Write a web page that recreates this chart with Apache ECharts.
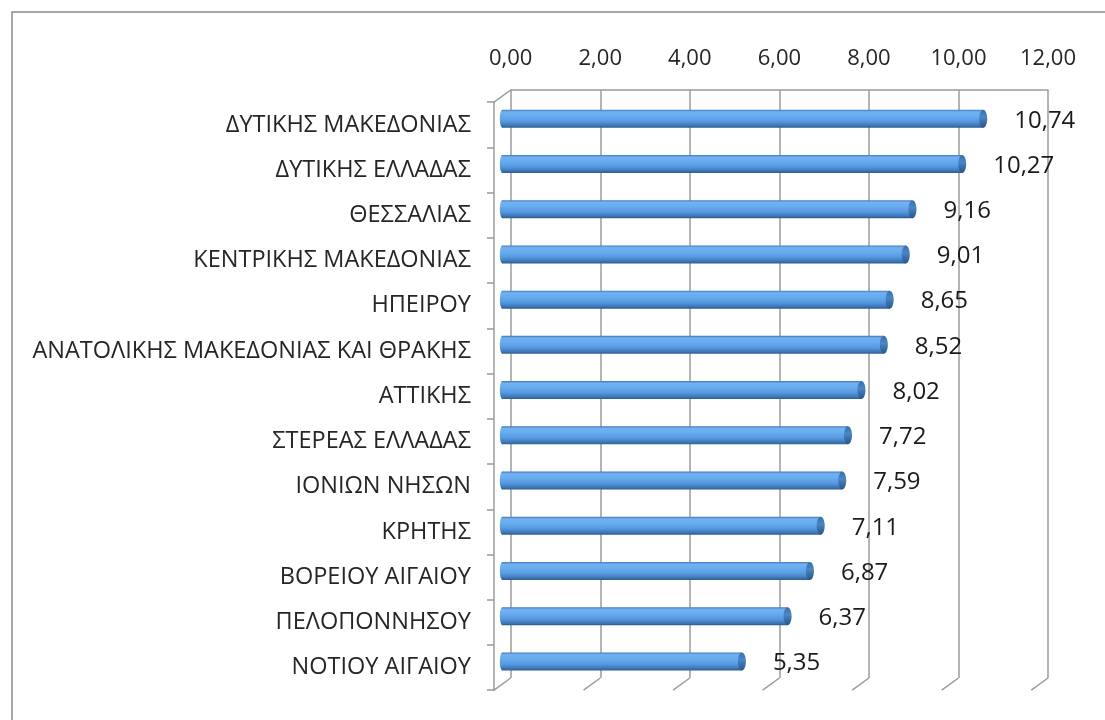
<!DOCTYPE html>
<html><head><meta charset="utf-8">
<script src="https://cdn.jsdelivr.net/npm/echarts@6/dist/echarts.min.js"></script>
<style>html,body{margin:0;padding:0;background:#fff}#c{width:1105px;height:720px}</style>
</head><body><div id="c"></div>
<script>
const categories = [
  'ΔΥΤΙΚΗΣ ΜΑΚΕΔΟΝΙΑΣ',
  'ΔΥΤΙΚΗΣ ΕΛΛΑΔΑΣ',
  'ΘΕΣΣΑΛΙΑΣ',
  'ΚΕΝΤΡΙΚΗΣ ΜΑΚΕΔΟΝΙΑΣ',
  'ΗΠΕΙΡΟΥ',
  'ΑΝΑΤΟΛΙΚΗΣ ΜΑΚΕΔΟΝΙΑΣ ΚΑΙ ΘΡΑΚΗΣ',
  'ΑΤΤΙΚΗΣ',
  'ΣΤΕΡΕΑΣ ΕΛΛΑΔΑΣ',
  'ΙΟΝΙΩΝ ΝΗΣΩΝ',
  'ΚΡΗΤΗΣ',
  'ΒΟΡΕΙΟΥ ΑΙΓΑΙΟΥ',
  'ΠΕΛΟΠΟΝΝΗΣΟΥ',
  'ΝΟΤΙΟΥ ΑΙΓΑΙΟΥ'
];
const values = [10.74, 10.27, 9.16, 9.01, 8.65, 8.52, 8.02, 7.72, 7.59, 7.11, 6.87, 6.37, 5.35];
const tickValues = [0, 2, 4, 6, 8, 10, 12];

const fmt = v => v.toFixed(2).replace('.', ',');
const FONT = '"Open Sans", "Noto Sans", sans-serif';
const DX = 16.7, DY = 12.2;
const LINE = '#9b9b9b';

const chart = echarts.init(document.getElementById('c'), null, {renderer: 'canvas'});

const barFill = {type: 'linear', x: 0, y: 0, x2: 0, y2: 1, colorStops: [
  {offset: 0, color: '#4279b8'},
  {offset: 0.12, color: '#70b2f2'},
  {offset: 0.35, color: '#68acef'},
  {offset: 0.65, color: '#5699e0'},
  {offset: 0.88, color: '#3d76b6'},
  {offset: 1, color: '#2d5b8f'}
]};
const capFill = {type: 'linear', x: 0, y: 0, x2: 0, y2: 1, colorStops: [
  {offset: 0, color: '#3a6ea8'},
  {offset: 0.4, color: '#4a86c6'},
  {offset: 1, color: '#2a5485'}
]};

const option = {
  backgroundColor: '#ffffff',
  animation: false,
  graphic: [{
    type: 'rect', silent: true, z: 0,
    shape: {x: 12, y: 12, width: 1200, height: 800},
    style: {fill: 'none', stroke: '#8a8a8a', lineWidth: 1.5}
  }],
  grid: [
    {left: 510.7, right: 57, top: 90, bottom: 42},
    {left: 494, right: 73.7, top: 102.2, bottom: 29.8},
    {left: 502.35, right: 65.35, top: 96.1, bottom: 35.9}
  ],
  xAxis: [
    {gridIndex: 0, type: 'value', position: 'top', min: 0, max: 12, interval: 2,
     axisLine: {show: true, lineStyle: {color: LINE, width: 1.5}},
     axisTick: {show: false},
     splitLine: {show: true, lineStyle: {color: LINE, width: 1.5}},
     axisLabel: {formatter: v => fmt(v), fontFamily: FONT, fontSize: 22, color: '#262626', margin: 20}},
    {gridIndex: 1, type: 'value', min: 0, max: 12, show: false},
    {gridIndex: 2, type: 'value', min: 0, max: 12, show: false}
  ],
  yAxis: [
    {gridIndex: 0, type: 'category', inverse: true, data: categories, show: false},
    {gridIndex: 1, type: 'category', inverse: true, data: categories,
     axisLine: {show: true, lineStyle: {color: LINE, width: 1.5}},
     axisTick: {show: true, length: 7, lineStyle: {color: LINE, width: 1.5}},
     splitLine: {show: false},
     axisLabel: {fontFamily: FONT, fontSize: 23.5, color: '#262626', margin: 23}},
    {gridIndex: 2, type: 'category', inverse: true, data: categories, show: false}
  ],
  series: [
    {
      type: 'custom', name: 'frame', xAxisIndex: 0, yAxisIndex: 0, silent: true, clip: false, z: 1,
      data: tickValues.map(v => [v, 0]),
      encode: {x: 0, y: 1},
      renderItem: (params, api) => {
        const cs = params.coordSys;
        const x = api.coord([api.value(0), 0])[0];
        const yb = cs.y + cs.height;
        const children = [{
          type: 'line', shape: {x1: x, y1: yb, x2: x - DX, y2: yb + DY},
          style: {stroke: LINE, lineWidth: 1.5}
        }];
        if (params.dataIndex === 0) {
          children.push({
            type: 'line', shape: {x1: cs.x, y1: cs.y, x2: cs.x - DX, y2: cs.y + DY},
            style: {stroke: LINE, lineWidth: 1.5}
          });
        }
        return {type: 'group', children};
      }
    },
    {
      type: 'custom', name: 'values', xAxisIndex: 2, yAxisIndex: 2, clip: false, z: 5,
      data: values.map((v, i) => [v, i]),
      encode: {x: 0, y: 1},
      renderItem: (params, api) => {
        const v = api.value(0);
        const c0 = api.coord([0, api.value(1)]);
        const c1 = api.coord([v, api.value(1)]);
        const h = 18, y = c0[1];
        return {type: 'group', children: [
          {type: 'rect', shape: {x: c0[0], y: y - h / 2, width: c1[0] - c0[0], height: h},
           style: {fill: barFill}},
          {type: 'ellipse', shape: {cx: c0[0], cy: y, rx: 2.5, ry: h / 2},
           style: {fill: barFill}},
          {type: 'ellipse', shape: {cx: c1[0], cy: y, rx: 4, ry: h / 2},
           style: {fill: capFill}},
          {type: 'text', x: c1[0] + 31, y: y + 2,
           style: {text: fmt(v), fontFamily: FONT, fontSize: 24, fill: '#1a1a1a',
                   align: 'left', verticalAlign: 'middle'}}
        ]};
      }
    }
  ]
};
chart.setOption(option);
</script>
</body></html>
